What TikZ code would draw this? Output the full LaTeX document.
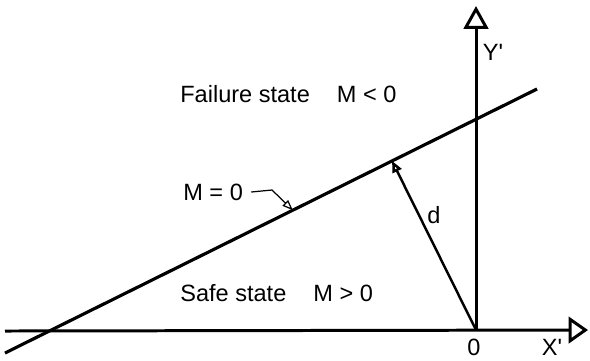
\documentclass[tikz,border=0pt]{standalone}
\usepackage{fontspec}
\setmainfont{Liberation Sans}
\usepackage{tikz}
\usetikzlibrary{arrows.meta, calc}

\begin{document}
\begin{tikzpicture}[
  x=0.02cm, y=-0.02cm,
  lbl/.style={font=\fontsize{13.4}{16}\selectfont, inner sep=0pt},
  axis/.style={line width=1.7pt},
  ytip/.style={-{Triangle[open, length=13pt, width=14pt]}},
  xtip/.style={-{Triangle[open, length=11pt, width=15pt]}},
  limit/.style={line width=1.8pt},
  dist/.style={line width=1.4pt, -{Triangle[open, length=6.5pt, width=5.5pt]}},
  leader/.style={line width=0.7pt, -{Triangle[open, length=6pt, width=4.5pt]}}
]
\useasboundingbox (0,0) rectangle (590,360);

% axes and limit state line
\coordinate (O) at (476,330);
\coordinate (xl) at (5,331);
\coordinate (xr) at (588,330);
\coordinate (yt) at (476,6);
\coordinate (A) at (5,353);
\coordinate (B) at (537,89);
\coordinate (F) at ($(A)!(O)!(B)$);
\coordinate (mtip) at ($(A)!0.541!(B)$);
\coordinate (bend) at (272,190);

\draw[limit] (A) -- (B);
\draw[axis, xtip] (xl) -- (xr);
\draw[axis, ytip] (O) -- (yt);
\draw[dist] (O) -- (F);

% labels
\node[lbl, anchor=west] (fail) at (180,94) {Failure state\hspace{1.15em}M < 0};
\node[lbl, anchor=west] (safe) at (180,293) {Safe state\hspace{1.15em}M > 0};
\node[lbl, anchor=west] (mzero) at (183,192) {M = 0};
\node[lbl] (dlab) at (434,215) {d};
\node[lbl] (ylab) at (493,52) {Y\textquotesingle};
\node[lbl] (olab) at (474,347) {0};
\node[lbl] (xlab) at (552,347) {X\textquotesingle};

\draw[leader] ($(mzero.east)+(8,0)$) -- (bend) -- (mtip);
\end{tikzpicture}
\end{document}
